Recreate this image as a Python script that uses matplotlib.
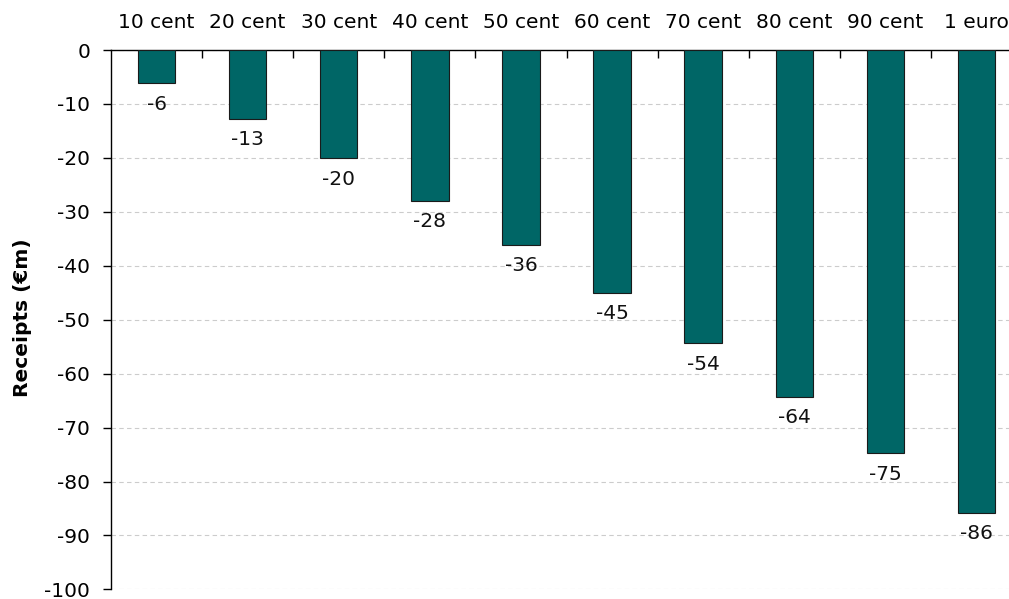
import numpy as np
import matplotlib.pyplot as plt
from matplotlib.ticker import FixedLocator

# price increase options and change in receipts (EUR m)
categories = ['10 cent', '20 cent', '30 cent', '40 cent', '50 cent',
              '60 cent', '70 cent', '80 cent', '90 cent', '1 euro']
receipts = [-6.2, -12.8, -20.1, -27.9, -36.2, -45.0, -54.4, -64.3, -74.8, -85.8]
yticks = [0, -10, -20, -30, -40, -50, -60, -70, -80, -90, -100]

plt.rcParams['font.family'] = 'DejaVu Sans'
fs = 14.5

fig = plt.figure(figsize=(10.09, 5.99), dpi=100)
ax = fig.add_axes([0.110, 0.016, 0.890, 0.9005])

x = np.arange(len(categories))
bars = ax.bar(x, receipts, width=0.41, color='#006666', edgecolor='#1a1a1a',
              linewidth=0.8, zorder=3)

for xi, v in zip(x, receipts):
    ax.annotate('%.0f' % v, (xi, v), xytext=(0, -8), textcoords='offset points',
                ha='center', va='top', fontsize=fs, color='#111111')

ax.set_ylim(-100, 0)
ax.set_xlim(-0.5, 9.357)
ax.set_yticks(yticks)
ax.set_yticklabels([str(t) for t in yticks], fontsize=fs)
ax.tick_params(axis='y', direction='out', length=6, width=1, pad=9)

# category labels on top, boundary ticks pointing in
ax.xaxis.tick_top()
ax.xaxis.set_major_locator(FixedLocator(np.arange(0.5, 9.6, 1.0)))
ax.xaxis.set_minor_locator(FixedLocator(x))
ax.xaxis.set_major_formatter(plt.NullFormatter())
ax.set_xticks(x, minor=True)
ax.set_xticklabels(categories, minor=True, fontsize=fs)
ax.tick_params(axis='x', which='major', direction='in', length=6, width=1)
ax.tick_params(axis='x', which='minor', length=0, pad=13)

ax.spines['right'].set_visible(False)
ax.spines['bottom'].set_visible(False)
ax.spines['top'].set_linewidth(1)
ax.spines['left'].set_linewidth(1)

ax.yaxis.grid(True, linestyle=(0, (4, 3)), color='#cccccc', linewidth=0.8, zorder=0)
ax.set_axisbelow(True)

fig.text(0.022, 0.47, 'Receipts (€m)', rotation=90, ha='center', va='center',
         fontsize=fs, fontweight='bold')

fig.savefig('out.png', dpi=100)
